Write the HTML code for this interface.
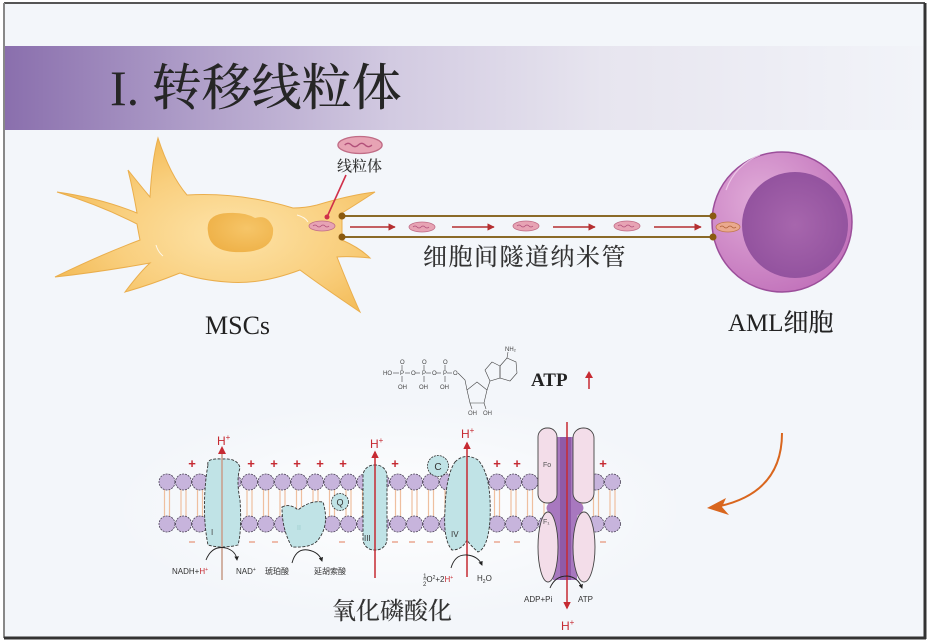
<!DOCTYPE html>
<html><head><meta charset="utf-8"><style>
html,body{margin:0;padding:0;background:#fff;}
svg{display:block;}
.cj{font-family:"Liberation Serif","Noto Serif CJK SC",serif;}
.sm{font-family:"Liberation Sans",sans-serif;}
</style></head><body>
<svg width="929" height="641" viewBox="0 0 929 641" xmlns="http://www.w3.org/2000/svg">
<defs>
<linearGradient id="ban" x1="0" y1="0" x2="1" y2="0">
<stop offset="0" stop-color="#8a6fad"/>
<stop offset="0.2" stop-color="#ae9dc8"/>
<stop offset="0.42" stop-color="#d2cae1"/>
<stop offset="0.65" stop-color="#e7e5ef"/>
<stop offset="1" stop-color="#f2f4f9"/>
</linearGradient>
<radialGradient id="msc" cx="0.55" cy="0.55" r="0.6">
<stop offset="0" stop-color="#fde3a8"/>
<stop offset="0.6" stop-color="#f9cf7e"/>
<stop offset="1" stop-color="#f3bb57"/>
</radialGradient>
<radialGradient id="nuc" cx="0.6" cy="0.4" r="0.7">
<stop offset="0" stop-color="#f6c568"/>
<stop offset="1" stop-color="#eeb046"/>
</radialGradient>
<radialGradient id="aml" cx="0.35" cy="0.35" r="0.75">
<stop offset="0" stop-color="#e1acd9"/>
<stop offset="1" stop-color="#c06fb9"/>
</radialGradient>
<radialGradient id="amln" cx="0.5" cy="0.5" r="0.6">
<stop offset="0" stop-color="#a766ad"/>
<stop offset="1" stop-color="#8f4f9c"/>
</radialGradient>
<radialGradient id="glow" cx="0.5" cy="0.5" r="0.5">
<stop offset="0" stop-color="#ffffff" stop-opacity="0.9"/>
<stop offset="1" stop-color="#ffffff" stop-opacity="0"/>
</radialGradient>
<g id="lp">
<line x1="-2.5" y1="489" x2="-2.5" y2="517" stroke="#efbf9f" stroke-width="1.2"/>
<line x1="2.5" y1="489" x2="2.5" y2="517" stroke="#efbf9f" stroke-width="1.2"/>
<circle cx="0" cy="482" r="8" fill="#c7b4dc" stroke="#4c4458" stroke-width="0.8" stroke-dasharray="2,1"/>
<circle cx="0" cy="524" r="8" fill="#c7b4dc" stroke="#4c4458" stroke-width="0.8" stroke-dasharray="2,1"/>
</g>
<g id="mito">
<ellipse cx="0" cy="0" rx="13" ry="5" fill="#e7a3b4" stroke="#c06c86" stroke-width="0.8"/>
<path d="M-9,0 q2,-2 4,0 t4,0 t4,0 t4,0" fill="none" stroke="#b2507a" stroke-width="0.8"/>
</g>
<marker id="ar" viewBox="0 0 10 10" refX="9" refY="5" markerWidth="5" markerHeight="5" orient="auto"><path d="M0,0 L10,5 L0,10 Z" fill="#b52f30"/></marker>
<marker id="bk" viewBox="0 0 10 10" refX="8" refY="5" markerWidth="5" markerHeight="5" orient="auto"><path d="M0,0 L10,5 L0,10 Z" fill="#222"/></marker>
<marker id="rh" viewBox="0 0 10 10" refX="8" refY="5" markerWidth="5" markerHeight="5" orient="auto"><path d="M0,0 L10,5 L0,10 Z" fill="#c62a32"/></marker>
</defs>

<!-- background & frame -->
<rect x="0" y="0" width="929" height="641" fill="#ffffff"/>
<rect x="4" y="3" width="921" height="635" fill="#f3f6fa"/>
<rect x="5" y="46" width="919" height="84" fill="url(#ban)"/>
<line x1="4" y1="3" x2="925" y2="3" stroke="#555" stroke-width="2"/>
<line x1="4" y1="3" x2="4" y2="638" stroke="#888" stroke-width="2"/>
<line x1="925" y1="3" x2="925" y2="639" stroke="#333" stroke-width="3"/>
<line x1="4" y1="638" x2="926" y2="638" stroke="#333" stroke-width="3"/>

<!-- title -->
<text x="110" y="105" class="cj" font-size="50" font-weight="500" fill="#262626">I. 转移线粒体</text>

<!-- MSC cell -->
<path d="M57,192 Q100,198 137,213 Q133,190 128,170 Q140,185 150,197 Q152,160 158,138 Q170,175 187,195 Q240,192 293,208 Q305,208 317,205 Q350,195 375,192 Q355,205 342,213 L342,240 Q360,248 370,258 Q350,256 337,257 Q350,290 360,312 Q320,285 300,270 Q260,285 227,282 Q200,280 180,273 Q150,285 125,292 Q140,272 150,263 Q100,272 55,277 Q100,255 140,240 Q138,230 137,224 Q100,205 57,192 Z" fill="url(#msc)" stroke="#eaae4c" stroke-width="1"/>
<path d="M208,232 Q205,214 228,213 Q245,212 255,218 Q268,214 273,228 Q275,250 245,252 Q210,254 208,232 Z" fill="url(#nuc)"/>
<path d="M297,215 Q305,217 308,222" stroke="#fff" stroke-width="1" fill="none" opacity="0.8"/>
<path d="M156,245 Q158,252 163,256" stroke="#fff" stroke-width="1" fill="none" opacity="0.8"/>
<use href="#mito" x="322" y="226"/>

<!-- label mitochondrion -->
<g transform="translate(360,145) scale(1.7)"><use href="#mito"/></g>
<text x="337" y="171" class="cj" font-size="15" font-weight="500" fill="#333">线粒体</text>
<line x1="346" y1="175" x2="327" y2="217" stroke="#d0304a" stroke-width="1.6"/>
<circle cx="327" cy="217" r="2.5" fill="#d0304a"/>

<!-- tunnel -->
<line x1="342" y1="216" x2="713" y2="216" stroke="#8a6a28" stroke-width="2"/>
<line x1="342" y1="237" x2="713" y2="237" stroke="#8a6a28" stroke-width="2"/>

<!-- AML cell -->
<circle cx="782" cy="222" r="70" fill="url(#aml)" stroke="#9b4e9a" stroke-width="1.5"/>
<circle cx="795" cy="225" r="53" fill="url(#amln)"/>
<path d="M726,190 Q735,165 760,155" stroke="#f3d3ee" stroke-width="1.2" fill="none" opacity="0.8"/>

<circle cx="342" cy="216" r="3.5" fill="#8a5a10"/>
<circle cx="342" cy="237" r="3.5" fill="#8a5a10"/>
<circle cx="713" cy="216" r="3.5" fill="#8a5a10"/>
<circle cx="713" cy="237" r="3.5" fill="#8a5a10"/>

<line x1="350" y1="227" x2="395" y2="227" stroke="#b52f30" stroke-width="1.5" marker-end="url(#ar)"/>
<use href="#mito" x="422" y="227"/>
<line x1="452" y1="227" x2="494" y2="227" stroke="#b52f30" stroke-width="1.5" marker-end="url(#ar)"/>
<use href="#mito" x="526" y="226"/>
<line x1="553" y1="227" x2="595" y2="227" stroke="#b52f30" stroke-width="1.5" marker-end="url(#ar)"/>
<use href="#mito" x="627" y="226"/>
<line x1="654" y1="227" x2="701" y2="227" stroke="#b52f30" stroke-width="1.5" marker-end="url(#ar)"/>
<g transform="translate(728,227)"><ellipse cx="0" cy="0" rx="12" ry="5" fill="#eaa98e" stroke="#c0784e" stroke-width="0.8"/><path d="M-8,0 q2,-2 4,0 t4,0 t4,0 t4,0" fill="none" stroke="#b0603a" stroke-width="0.8"/></g>

<text x="423" y="265" class="cj" font-size="24" font-weight="500" letter-spacing="1.5" fill="#333">细胞间隧道纳米管</text>
<text x="205" y="334" class="cj" font-size="26" fill="#222">MSCs</text>
<text x="728" y="331" class="cj" font-size="25" font-weight="500" fill="#222">AML细胞</text>

<!-- ATP molecule -->
<g stroke="#444" stroke-width="0.6" fill="none">
<line x1="393" y1="373" x2="399" y2="373"/><line x1="405" y1="373" x2="410" y2="373"/><line x1="415" y1="373" x2="420" y2="373"/>
<line x1="426" y1="373" x2="431" y2="373"/><line x1="436" y1="373" x2="441" y2="373"/><line x1="447" y1="373" x2="452" y2="373"/>
<line x1="402" y1="365" x2="402" y2="370"/><line x1="424" y1="365" x2="424" y2="370"/><line x1="445" y1="365" x2="445" y2="370"/>
<line x1="402" y1="376" x2="402" y2="382"/><line x1="424" y1="376" x2="424" y2="382"/><line x1="445" y1="376" x2="445" y2="382"/>
<polyline points="458,373 465,380 467,390"/>
<polygon points="467,390 477,382 487,390 484,403 470,403"/>
<line x1="470" y1="403" x2="472" y2="409"/><line x1="484" y1="403" x2="486" y2="409"/>
<line x1="487" y1="390" x2="490" y2="381"/>
<polygon points="490,381 485,370 492,362 500,366 500,378"/>
<polygon points="500,366 507,358 516,362 517,373 510,381 500,378"/>
<line x1="507" y1="358" x2="508" y2="352"/>
</g>
<g class="sm" font-size="6" fill="#444">
<text x="383" y="375">HO</text><text x="400" y="375">P</text><text x="411" y="375">O</text><text x="422" y="375">P</text><text x="432" y="375">O</text><text x="443" y="375">P</text><text x="453" y="375">O</text>
<text x="400" y="364">O</text><text x="422" y="364">O</text><text x="443" y="364">O</text>
<text x="398" y="389">OH</text><text x="419" y="389">OH</text><text x="440" y="389">OH</text>
<text x="468" y="415">OH</text><text x="483" y="415">OH</text>
<text x="505" y="351">NH₂</text>
</g>
<text x="531" y="386" font-family="Liberation Serif,serif" font-weight="bold" font-size="19" fill="#222">ATP</text>
<line x1="589" y1="389" x2="589" y2="377" stroke="#c62a32" stroke-width="1.5"/>
<path d="M585,378 L589,371 L593,378 Z" fill="#c62a32"/>

<!-- membrane glow -->
<ellipse cx="400" cy="510" rx="290" ry="110" fill="url(#glow)"/>

<!-- lipids -->
<use href="#lp" x="167"/><use href="#lp" x="183.5"/><use href="#lp" x="200"/><use href="#lp" x="216.5"/><use href="#lp" x="233"/>
<use href="#lp" x="249.5"/><use href="#lp" x="266"/><use href="#lp" x="282.5"/><use href="#lp" x="299"/><use href="#lp" x="315.5"/>
<use href="#lp" x="332"/><use href="#lp" x="348.5"/><use href="#lp" x="365"/><use href="#lp" x="381.5"/><use href="#lp" x="398"/>
<use href="#lp" x="414.5"/><use href="#lp" x="431"/><use href="#lp" x="447.5"/><use href="#lp" x="464"/><use href="#lp" x="480.5"/>
<use href="#lp" x="497"/><use href="#lp" x="513.5"/><use href="#lp" x="530"/><use href="#lp" x="546.5"/><use href="#lp" x="563"/>
<use href="#lp" x="579.5"/><use href="#lp" x="596"/><use href="#lp" x="612.5"/>

<!-- plus / minus -->
<g font-family="Liberation Sans,sans-serif" font-size="13" font-weight="bold" fill="#c62a32" text-anchor="middle">
<text x="192" y="468">+</text><text x="251" y="468">+</text><text x="274" y="468">+</text><text x="297" y="468">+</text><text x="320" y="468">+</text><text x="343" y="468">+</text>
<text x="395" y="468">+</text><text x="497" y="468">+</text><text x="517" y="468">+</text><text x="603" y="468">+</text>
</g>
<g stroke="#e89a80" stroke-width="1.3">
<line x1="189" y1="542" x2="195" y2="542"/><line x1="249" y1="542" x2="255" y2="542"/><line x1="272" y1="542" x2="278" y2="542"/><line x1="339" y1="542" x2="345" y2="542"/>
<line x1="392" y1="542" x2="398" y2="542"/><line x1="409" y1="542" x2="415" y2="542"/><line x1="427" y1="542" x2="433" y2="542"/><line x1="494" y1="542" x2="500" y2="542"/>
<line x1="514" y1="542" x2="520" y2="542"/><line x1="600" y1="542" x2="606" y2="542"/>
</g>

<!-- Complex I -->
<path d="M208,465 Q206,458 222,459 Q238,458 240,468 Q236,480 240,500 Q242,530 238,545 Q222,549 208,545 Q203,520 205,490 Q206,475 208,465 Z" fill="#c0e3e6" stroke="#333" stroke-width="0.9" stroke-dasharray="3,1.5"/>
<line x1="222" y1="580" x2="222" y2="452" stroke="#c9a08e" stroke-width="1.6"/>
<path d="M218,454 L222,446 L226,454 Z" fill="#c62a32"/>
<text x="211" y="535" class="sm" font-size="8" fill="#444">I</text>
<text x="217" y="445" class="sm" font-size="12" fill="#c62a32">H<tspan font-size="8" dy="-5">+</tspan></text>

<!-- Complex II -->
<path d="M282,507 Q290,503 298,510 Q310,500 323,502 Q330,525 318,540 Q312,548 292,547 Q282,530 282,507 Z" fill="#c0e3e6" stroke="#333" stroke-width="0.9" stroke-dasharray="3,1.5"/>
<text x="297" y="530" class="sm" font-size="7" fill="#9cc">II</text>
<circle cx="340" cy="502" r="8.5" fill="#c0e3e6" stroke="#333" stroke-width="0.8" stroke-dasharray="2,1"/>
<text x="340" y="505.5" class="sm" font-size="9" fill="#333" text-anchor="middle">Q</text>

<!-- Complex III -->
<rect x="363" y="465" width="24" height="85" rx="11" fill="#c0e3e6" stroke="#333" stroke-width="0.9" stroke-dasharray="3,1.5"/>
<line x1="375" y1="578" x2="375" y2="452" stroke="#c62a32" stroke-width="1.5" marker-end="url(#rh)"/>
<text x="364" y="541" class="sm" font-size="8" fill="#333">III</text>
<text x="370" y="448" class="sm" font-size="12" fill="#c62a32">H<tspan font-size="8" dy="-5">+</tspan></text>

<!-- C -->
<circle cx="438" cy="466" r="10.5" fill="#c0e3e6" stroke="#333" stroke-width="0.8" stroke-dasharray="2,1"/>
<text x="438" y="470" class="sm" font-size="10" fill="#333" text-anchor="middle">C</text>

<!-- Complex IV -->
<path d="M455,462 Q465,452 478,460 Q492,475 490,520 Q488,548 478,552 Q470,545 467,540 Q462,550 452,550 Q443,540 445,510 Q446,475 455,462 Z" fill="#c0e3e6" stroke="#333" stroke-width="0.9" stroke-dasharray="3,1.5"/>
<line x1="467" y1="577" x2="467" y2="443" stroke="#c62a32" stroke-width="1.5" marker-end="url(#rh)"/>
<text x="451" y="537" class="sm" font-size="8" fill="#333">IV</text>
<text x="461" y="438" class="sm" font-size="12" fill="#c62a32">H<tspan font-size="8" dy="-5">+</tspan></text>

<!-- ATP synthase -->
<path d="M553,437 L577,437 L577,500 Q590,508 577,516 L577,580 L553,580 L553,516 Q540,508 553,500 Z" fill="#a878bf"/>
<rect x="560" y="437" width="11" height="143" fill="#8f5aa8"/>
<rect x="538" y="428" width="19" height="75" rx="9" fill="#f3dde9" stroke="#444" stroke-width="0.9"/>
<rect x="573" y="428" width="21" height="75" rx="10" fill="#f3dde9" stroke="#444" stroke-width="0.9"/>
<ellipse cx="548" cy="547" rx="10" ry="35" fill="#f3dde9" stroke="#444" stroke-width="0.9"/>
<ellipse cx="584" cy="547" rx="11" ry="35" fill="#f3dde9" stroke="#444" stroke-width="0.9"/>
<line x1="567" y1="422" x2="567" y2="608" stroke="#c62a32" stroke-width="1.5" marker-end="url(#rh)"/>
<text x="543" y="467" class="sm" font-size="7" fill="#555">Fo</text>
<text x="543" y="524" class="sm" font-size="7" fill="#555">F₁</text>
<text x="561" y="630" class="sm" font-size="12" fill="#c62a32">H<tspan font-size="8" dy="-5">+</tspan></text>

<!-- reaction arcs -->
<g fill="none" stroke="#222" stroke-width="0.9">
<path d="M206,560 Q212,545 226,548 Q236,551 237,560" marker-end="url(#bk)"/>
<path d="M292,563 Q296,548 308,550 Q319,552 322,561" marker-end="url(#bk)"/>
<path d="M451,568 Q455,554 467,555 Q478,556 482,565" marker-end="url(#bk)"/>
<path d="M550,588 Q555,576 567,576 Q578,577 582,588" marker-end="url(#bk)"/>
</g>
<g class="sm" font-size="8" fill="#333">
<text x="172" y="574">NADH+<tspan fill="#c62a32">H<tspan font-size="5" dy="-3">+</tspan></tspan></text>
<text x="236" y="574">NAD<tspan font-size="5" dy="-3">+</tspan></text>
<text x="265" y="574" font-family="Liberation Sans,Noto Sans CJK SC,sans-serif">琥珀酸</text>
<text x="314" y="574" font-family="Liberation Sans,Noto Sans CJK SC,sans-serif">延胡索酸</text>
<text x="423" y="582"><tspan font-size="6" dy="-4">1</tspan><tspan font-size="6" dx="-3.5" dy="8">2</tspan><tspan dy="-4">O</tspan><tspan font-size="5" dy="-3">2</tspan><tspan dy="3">+2</tspan><tspan fill="#c62a32">H<tspan font-size="5" dy="-3">+</tspan></tspan></text>
<line x1="423" y1="579" x2="428" y2="579" stroke="#333" stroke-width="0.5"/>
<text x="477" y="581">H<tspan font-size="5" dy="2">2</tspan><tspan dy="-2">O</tspan></text>
<text x="524" y="602">ADP+Pi</text>
<text x="578" y="602">ATP</text>
</g>

<text x="332" y="619" class="cj" font-size="24" font-weight="500" fill="#333">氧化磷酸化</text>

<!-- orange arrow -->
<path d="M782,433 Q782,492 720,506" fill="none" stroke="#d9661e" stroke-width="2"/>
<path d="M707,508 L726,498 L722,507 L729,515 Z" fill="#d9661e"/>
</svg>
</body></html>
